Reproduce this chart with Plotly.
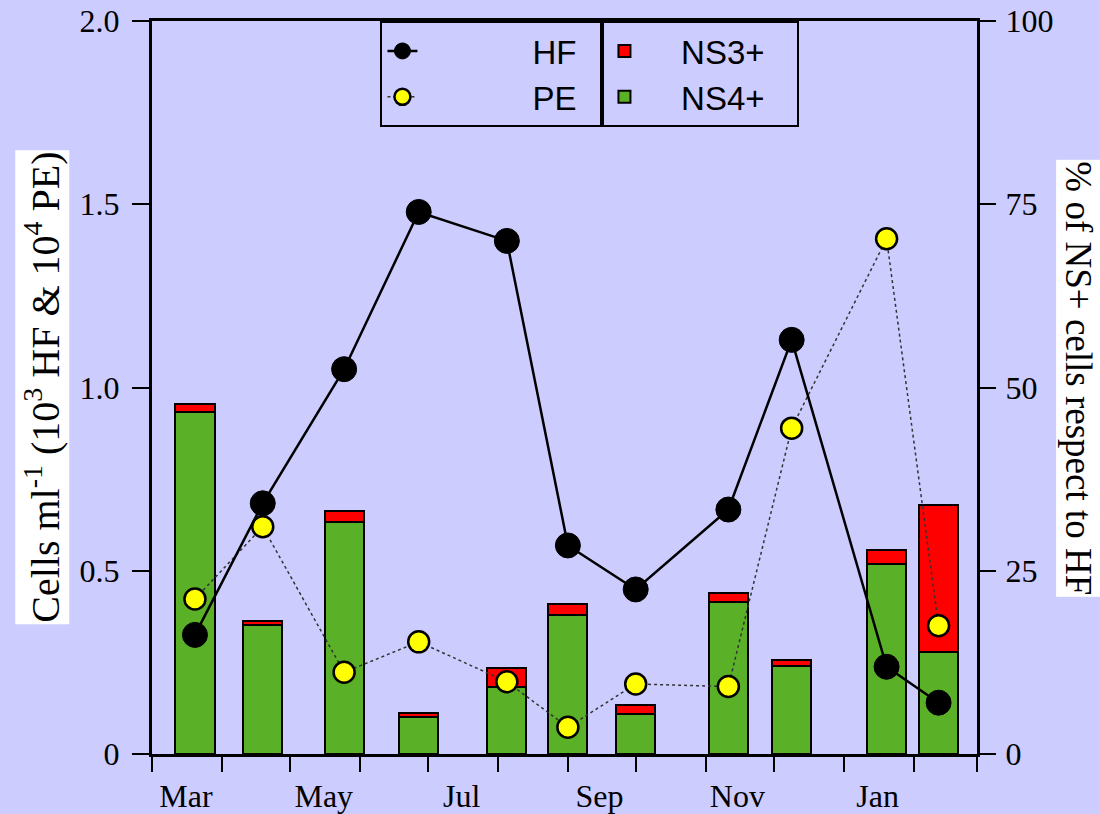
import plotly.graph_objects as go

# ---- data ----
dates = ["2005-03-20", "2005-04-19", "2005-05-25", "2005-06-27", "2005-08-05",
         "2005-09-01", "2005-10-01", "2005-11-11", "2005-12-09", "2006-01-20", "2006-02-12"]
hf = [0.325, 0.684, 1.050, 1.479, 1.400, 0.569, 0.449, 0.667, 1.130, 0.238, 0.140]
pe = [0.423, 0.620, 0.223, 0.306, 0.197, 0.073, 0.191, 0.184, 0.889, 1.406, 0.350]
ns4 = [46.6, 17.6, 31.7, 5.1, 9.1, 18.9, 5.4, 20.8, 12.0, 25.9, 13.9]
ns3 = [1.2, 0.5, 1.5, 0.5, 2.7, 1.6, 1.3, 1.2, 0.8, 1.9, 20.1]

month_labels = ["Mar", "May", "Jul", "Sep", "Nov", "Jan"]
month_label_pos = ["2005-03-16", "2005-05-16", "2005-07-16", "2005-09-15", "2005-11-15", "2006-01-16"]
month_starts = ["2005-03-01", "2005-04-01", "2005-05-01", "2005-06-01", "2005-07-01", "2005-08-01",
                "2005-09-01", "2005-10-01", "2005-11-01", "2005-12-01", "2006-01-01", "2006-02-01",
                "2006-03-01"]
left_ticks = [0, 0.5, 1.0, 1.5, 2.0]
left_ticktext = ["0", "0.5", "1.0", "1.5", "2.0"]
right_ticks = [0, 25, 50, 75, 100]

BG = "#CCCCFF"
GREEN = "#5AB026"
RED = "#FF0000"
SERIF = "Liberation Serif, Times New Roman, serif"
SANS = "Liberation Sans, Arial, sans-serif"
bar_width_ms = 17.3 * 86400000
NB = "\u00a0"

fig = go.Figure()

# bars on the primary (right-hand, %) axis
fig.add_trace(go.Bar(
    x=dates, y=ns4, name=NB * 4 + "NS4+" + NB * 3, yaxis="y", width=bar_width_ms,
    marker=dict(color=GREEN, line=dict(color="black", width=2)),
    legend="legend2"))
fig.add_trace(go.Bar(
    x=dates, y=ns3, name=NB * 4 + "NS3+" + NB * 3, yaxis="y", width=bar_width_ms,
    marker=dict(color=RED, line=dict(color="black", width=2)),
    legend="legend2"))

# lines on the overlaying (left-hand, cells) axis, drawn on top
fig.add_trace(go.Scatter(
    x=dates, y=pe, name=NB * 12 + "PE" + NB * 2, mode="lines+markers", yaxis="y2",
    line=dict(color="#333333", width=1.5, dash="dot"),
    marker=dict(color="#FFFF00", size=21, line=dict(color="black", width=2.5)),
    legend="legend"))
fig.add_trace(go.Scatter(
    x=dates, y=hf, name=NB * 12 + "HF" + NB * 2, mode="lines+markers", yaxis="y2",
    line=dict(color="black", width=2.5),
    marker=dict(color="black", size=25, line=dict(color="black", width=1)),
    legend="legend"))

fig.update_layout(
    width=1100, height=814,
    paper_bgcolor=BG, plot_bgcolor=BG,
    margin=dict(l=152, r=123, t=21, b=60, autoexpand=False),
    barmode="stack",
    bargap=0,
    xaxis=dict(
        type="date", range=["2005-03-01", "2006-03-01"],
        tickmode="array", tickvals=month_label_pos, ticktext=month_labels,
        ticks="", showgrid=False, zeroline=False, automargin=False,
        showline=True, linecolor="black", linewidth=3, mirror=True,
        ticklabelstandoff=12,
        tickfont=dict(family=SERIF, size=32, color="black"),
        minor=dict(tickmode="array", tickvals=month_starts, ticks="outside",
                   ticklen=15, tickwidth=2, tickcolor="black", showgrid=False),
    ),
    yaxis=dict(
        range=[0, 100], side="right", automargin=False,
        tickmode="array", tickvals=right_ticks,
        ticks="outside", ticklen=16, tickwidth=2, tickcolor="black",
        showgrid=False, zeroline=False, ticklabelstandoff=3,
        showline=True, linecolor="black", linewidth=3,
        tickfont=dict(family=SERIF, size=32, color="black"),
    ),
    yaxis2=dict(
        range=[0, 2.0], overlaying="y", side="left", automargin=False,
        tickmode="array", tickvals=left_ticks, ticktext=left_ticktext,
        ticks="outside", ticklen=17, tickwidth=2, tickcolor="black",
        showgrid=False, zeroline=False, ticklabelstandoff=6,
        showline=True, linecolor="black", linewidth=3,
        tickfont=dict(family=SERIF, size=32, color="black"),
    ),
    legend=dict(
        x=0.546, y=1.0, xanchor="right", yanchor="top",
        bgcolor=BG, bordercolor="black", borderwidth=2,
        font=dict(family=SANS, size=33, color="black"),
        traceorder="reversed", itemwidth=30,
    ),
    legend2=dict(
        x=0.546, y=1.0, xanchor="left", yanchor="top",
        bgcolor=BG, bordercolor="black", borderwidth=2,
        font=dict(family=SANS, size=33, color="black"),
        traceorder="reversed", itemwidth=30,
    ),
    annotations=[
        dict(text="Cells ml<sup>-1</sup> (10<sup>3</sup> HF & 10<sup>4</sup> PE)",
             xref="paper", yref="paper", x=-0.133, y=0.5, textangle=-90,
             xanchor="center", yanchor="middle",
             showarrow=False, bgcolor="white",
             font=dict(family=SERIF, size=40, color="black")),
        dict(text="% of NS+ cells respect to HF",
             xref="paper", yref="paper", x=1.122, y=0.513, textangle=90,
             xanchor="center", yanchor="middle",
             showarrow=False, bgcolor="white",
             font=dict(family=SERIF, size=37, color="black")),
    ],
)

fig.write_html("out.html",
               config={"displayModeBar": False},
               post_script="document.body.style.margin='0';document.body.style.background='#CCCCFF';")
